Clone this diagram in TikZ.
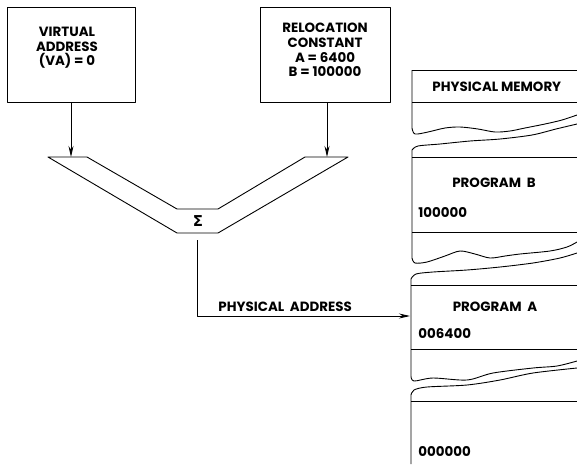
\documentclass[tikz,border=0pt]{standalone}
\usepackage[no-math]{fontspec}
\setmainfont{Poppins}
\newfontfamily\dvfont{DejaVu Sans}
\usetikzlibrary{arrows.meta}
\begin{document}
\begin{tikzpicture}[x=1pt,y=-1pt,line width=0.9pt,line join=round,
  lbl/.style={font=\bfseries\fontsize{13.4}{14.6}\selectfont,inner sep=0pt,align=center},
  arr/.style={-{Stealth[length=11pt,width=5pt]}},
  boxx/.style={draw,inner sep=0pt,anchor=north west}]
\useasboundingbox (0,0) rectangle (577,464);
% input boxes
\node[boxx,minimum width=128pt,minimum height=95pt] (va) at (7,7) {};
\node[lbl] (vat) at (67,48) {VIRTUAL\\ADDRESS\\(VA) = 0};
\node[boxx,minimum width=130pt,minimum height=95pt] (rc) at (260,7) {};
\node[lbl] (rct) at (325,50) {RELOCATION\\CONSTANT\\A = 6400\\B = 100000};
% adder
\draw (48,157) -- (87,157) -- (177,209) -- (218,209) -- (305,157) -- (348,157)
      -- (218,233) -- (177,233) -- cycle;
\node[inner sep=0pt,font=\dvfont\bfseries\fontsize{15}{16}\selectfont] (sig) at (198,221) {Σ};
\coordinate (vin) at (71,157);
\coordinate (rin) at (327,157);
\draw[arr] (va.south -| vin) -- (vin);
\draw[arr] (rc.south -| rin) -- (rin);
% output
\coordinate (vstart) at (197,240);
\coordinate (pa) at (197,316);
\coordinate (memin) at (410,316);
\draw[arr] (vstart) -- (pa) -- (memin);
\node[lbl,anchor=west] (pal) at (218,307) {PHYSICAL\ \ ADDRESS};
% memory column
\draw (412,70) -- (577,70);
\draw (412,102) -- (577,102);
\draw (412,157) -- (577,157);
\draw (412,232) -- (577,232);
\draw (411,285) -- (577,285);
\draw (411,349) -- (577,349);
\draw (411,401) -- (577,401);
% breaks and left edge
\draw (412,70) -- (412,128) -- plot[smooth] coordinates {(412,128) (415,134) (428,132) (445,128) (460,127) (478,129) (495,132) (510,131) (525,128) (545,124) (562,120) (577,115)};
\draw plot[smooth] coordinates {(577,124) (556,129) (532,135) (500,139) (470,141) (440,144) (418,146) (412,150)} -- (412,258)
   -- plot[smooth] coordinates {(412,258) (415,263) (427,262) (445,256) (460,251) (475,254) (490,258) (505,256) (520,254) (550,251) (567,247) (577,242)};
\draw plot[smooth] coordinates {(577,253) (560,258) (533,263) (500,267) (467,270) (433,272) (416,274) (411,279)} -- (411,376)
   -- plot[smooth] coordinates {(411,376) (414,381) (433,378) (467,380) (493,373) (533,368) (557,366) (577,361)};
\draw plot[smooth] coordinates {(577,368) (533,373) (500,380) (467,385) (427,387) (414,390) (411,395)} -- (411,464);
% memory labels
\node[lbl,anchor=west] (pm) at (432,87) {PHYSICAL MEMORY};
\node[lbl] (pb) at (494,183) {PROGRAM\ \ B};
\node[lbl,anchor=west] (b0) at (418,213) {100000};
\node[lbl] (pa2) at (495,307) {PROGRAM\ \ A};
\node[lbl,anchor=west] (a0) at (418,334) {006400};
\node[lbl,anchor=west] (z0) at (418,451) {000000};
\end{tikzpicture}
\end{document}
